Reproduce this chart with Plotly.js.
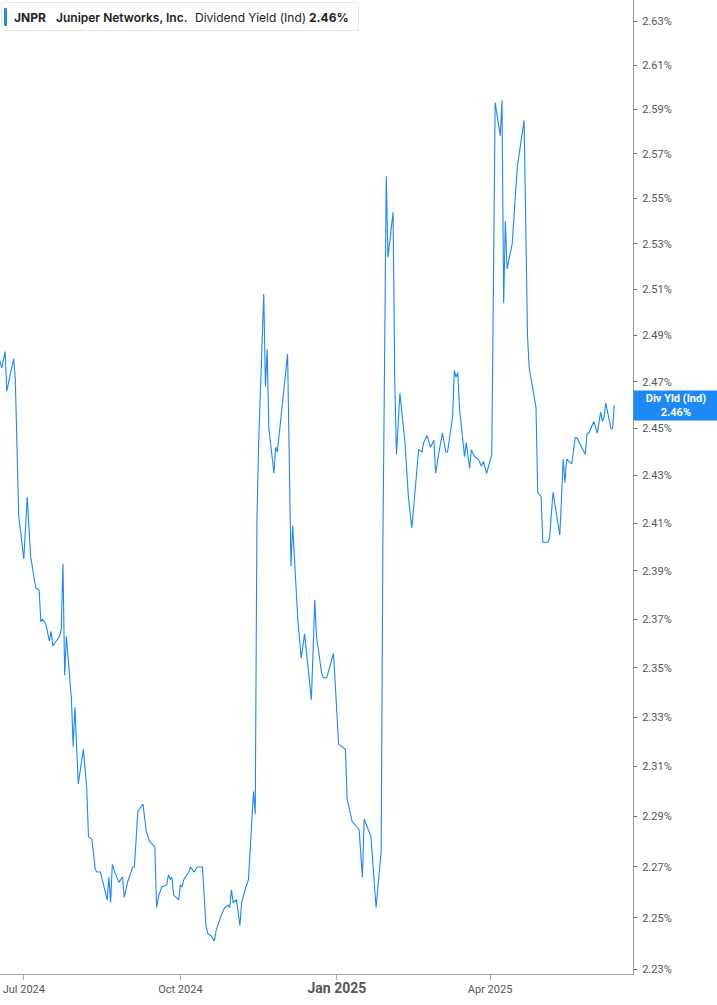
<!DOCTYPE html>
<html>
<head>
<meta charset="utf-8">
<script src="https://cdn.plot.ly/plotly-3.0.1.min.js"></script>
<style>
  body { margin: 0; background: #fff; }
  #chart { position: absolute; left: 0; top: 0; width: 717px; height: 1005px; }
  .hdr {
    position: absolute; left: 1px; top: 2px; width: 358px; height: 29px;
    background: #fff; border: 1px solid #e6e6e6; border-radius: 3px;
    font-family: Inter, Roboto, sans-serif; font-size: 12px; color: #222;
    line-height: 29px; white-space: nowrap; box-sizing: border-box;
  }
  .hdr .bar { position: absolute; left: 2px; top: 5px; width: 3px; height: 18px; background: #1e88f5; border-radius: 1px; }
  .hdr span { position: absolute; top: 0; }
</style>
</head>
<body>
<div id="chart"></div>
<div class="hdr">
  <div class="bar"></div>
  <span style="left:12px;font-weight:700">JNPR</span>
  <span style="left:54px;font-weight:600">Juniper Networks, Inc.</span>
  <span style="left:193px">Dividend Yield (Ind)</span>
  <span style="left:307px;font-weight:700">2.46%</span>
</div>
<script>
// daily dividend yield (%)
var dates = [
  '2024-06-17','2024-06-18','2024-06-20','2024-06-21','2024-06-25','2024-06-26','2024-06-28',
  '2024-07-01','2024-07-03','2024-07-05','2024-07-08','2024-07-10','2024-07-11','2024-07-12',
  '2024-07-14','2024-07-16','2024-07-17','2024-07-18','2024-07-22','2024-07-23','2024-07-24',
  '2024-07-25','2024-07-26','2024-07-28','2024-07-29','2024-07-30','2024-07-31',
  '2024-08-02','2024-08-05','2024-08-07','2024-08-08','2024-08-10','2024-08-12','2024-08-13',
  '2024-08-15','2024-08-19','2024-08-20','2024-08-21','2024-08-22','2024-08-24','2024-08-26',
  '2024-08-28','2024-08-29','2024-08-31',
  '2024-09-03','2024-09-04','2024-09-06','2024-09-09','2024-09-11','2024-09-12','2024-09-13',
  '2024-09-16','2024-09-17','2024-09-18','2024-09-20','2024-09-23','2024-09-24','2024-09-25',
  '2024-09-26','2024-09-27','2024-09-30',
  '2024-10-01','2024-10-02','2024-10-03','2024-10-06','2024-10-07','2024-10-09','2024-10-11',
  '2024-10-14','2024-10-16','2024-10-17','2024-10-19','2024-10-21','2024-10-22','2024-10-23',
  '2024-10-25','2024-10-27','2024-10-29','2024-10-30','2024-10-31',
  '2024-11-01','2024-11-03','2024-11-05','2024-11-06','2024-11-08','2024-11-10','2024-11-13',
  '2024-11-14','2024-11-15','2024-11-16','2024-11-19','2024-11-20','2024-11-21','2024-11-22',
  '2024-11-25','2024-11-26','2024-11-27',
  '2024-12-03','2024-12-05','2024-12-06','2024-12-09','2024-12-11','2024-12-13','2024-12-17',
  '2024-12-19','2024-12-20','2024-12-23','2024-12-24','2024-12-26','2024-12-30',
  '2025-01-02','2025-01-06','2025-01-07','2025-01-10','2025-01-14','2025-01-16','2025-01-17',
  '2025-01-21','2025-01-24','2025-01-27','2025-01-28','2025-01-30','2025-01-31',
  '2025-02-03','2025-02-04','2025-02-05','2025-02-07','2025-02-10','2025-02-12','2025-02-14',
  '2025-02-16','2025-02-18','2025-02-20','2025-02-21','2025-02-23','2025-02-25','2025-02-27',
  '2025-02-28',
  '2025-03-02','2025-03-04','2025-03-06','2025-03-07','2025-03-10','2025-03-11','2025-03-12',
  '2025-03-13','2025-03-14','2025-03-17','2025-03-18','2025-03-20','2025-03-21','2025-03-23',
  '2025-03-25','2025-03-27','2025-03-28','2025-03-30',
  '2025-04-02','2025-04-04','2025-04-07','2025-04-08','2025-04-09','2025-04-10','2025-04-11',
  '2025-04-14','2025-04-17','2025-04-21','2025-04-23','2025-04-24','2025-04-28','2025-04-29',
  '2025-05-01','2025-05-02','2025-05-05','2025-05-06','2025-05-08','2025-05-12','2025-05-14',
  '2025-05-15','2025-05-16','2025-05-19','2025-05-21','2025-05-22','2025-05-27','2025-05-28',
  '2025-05-29',
  '2025-06-01','2025-06-03','2025-06-05','2025-06-06','2025-06-07','2025-06-08','2025-06-11',
  '2025-06-12','2025-06-13'
];
var yields = [
  2.479,2.476,2.483,2.466,2.480,2.471,2.413,
  2.395,2.421,2.396,2.383,2.382,2.369,2.370,
  2.368,2.361,2.365,2.359,2.363,2.366,2.393,
  2.347,2.363,2.344,2.337,2.318,2.334,
  2.303,2.317,2.301,2.282,2.281,2.269,2.268,
  2.268,2.257,2.266,2.256,2.271,2.267,2.264,
  2.266,2.258,2.264,
  2.270,2.270,2.292,2.295,2.284,2.282,2.280,
  2.278,2.254,2.258,2.262,2.263,2.267,2.265,
  2.266,2.259,2.257,
  2.263,2.262,2.265,2.268,2.270,2.268,2.270,
  2.270,2.247,2.244,2.243,2.241,2.245,2.247,
  2.251,2.254,2.255,2.254,2.261,
  2.256,2.257,2.247,2.256,2.261,2.265,2.300,
  2.291,2.411,2.444,2.508,2.468,2.484,2.450,
  2.431,2.442,2.440,
  2.482,2.392,2.409,2.370,2.354,2.364,2.337,
  2.378,2.363,2.348,2.346,2.346,2.356,
  2.319,2.317,2.297,2.288,2.285,2.266,2.289,
  2.282,2.254,2.276,2.400,2.560,2.524,
  2.544,2.470,2.439,2.465,2.444,2.421,2.408,
  2.424,2.441,2.440,2.444,2.447,2.442,2.445,
  2.431,
  2.440,2.448,2.440,2.440,2.455,2.475,2.472,
  2.474,2.459,2.438,2.444,2.433,2.441,2.438,
  2.437,2.434,2.436,2.431,
  2.439,2.593,2.578,2.594,2.504,2.540,2.519,
  2.530,2.564,2.585,2.490,2.476,2.459,2.423,
  2.421,2.402,2.402,2.404,2.423,2.405,2.437,
  2.427,2.437,2.435,2.446,2.446,2.439,2.448,
  2.448,
  2.453,2.448,2.457,2.453,2.455,2.461,2.450,
  2.450,2.460
];

var yTicks = [2.23,2.25,2.27,2.29,2.31,2.33,2.35,2.37,2.39,2.41,2.43,2.45,2.47,2.49,2.51,2.53,2.55,2.57,2.59,2.61,2.63];
var xTicks = ['2024-07-01','2024-10-01','2025-01-01','2025-04-01'];
var xTickText = ['Jul 2024','Oct 2024','<b><span style="font-size:14px">Jan 2025</span></b>','Apr 2025'];

var lastVal = yields[yields.length - 1];

var trace = {
  x: dates,
  y: yields,
  type: 'scatter',
  mode: 'lines',
  line: {color: '#1a87ff', width: 1.1},
  hoverinfo: 'skip'
};

var layout = {
  width: 717,
  height: 1005,
  margin: {l: 0, r: 84, t: 0, b: 31},
  paper_bgcolor: '#fff',
  plot_bgcolor: '#fff',
  showlegend: false,
  font: {family: 'Roboto, sans-serif', size: 11, color: '#555'},
  xaxis: {
    type: 'date',
    range: ['2024-06-17', '2025-06-24'],
    tickvals: xTicks,
    ticktext: xTickText,
    showgrid: false,
    zeroline: false,
    showline: true,
    linecolor: '#aaa',
    linewidth: 1,
    ticks: 'outside',
    ticklen: 5,
    tickcolor: '#aaa',
    tickfont: {size: 11, color: '#555'},
    fixedrange: true
  },
  yaxis: {
    type: 'log',
    side: 'right',
    range: [Math.log10(2.2281), Math.log10(2.6397)],
    tickvals: yTicks,
    ticktext: yTicks.map(function (v) { return v.toFixed(2) + '%'; }),
    showgrid: false,
    zeroline: false,
    showline: true,
    linecolor: '#999',
    linewidth: 1,
    ticks: 'outside',
    ticklen: 3,
    tickcolor: '#666',
    ticklabelstandoff: 3,
    tickfont: {size: 11, color: '#555'},
    fixedrange: true
  },
  annotations: [{
    xref: 'paper', yref: 'y',
    x: 1, y: Math.log10(lastVal),
    xanchor: 'left', yanchor: 'middle',
    text: '<b>Div Yld (Ind)</b><br><b>' + lastVal.toFixed(2) + '%</b>',
    showarrow: false,
    align: 'center',
    font: {family: 'Roboto, sans-serif', size: 11, color: '#fff'},
    bgcolor: '#1e88f5',
    width: 80,
    height: 25,
    borderpad: 2
  }]
};

Plotly.newPlot('chart', [trace], layout, {displayModeBar: false, staticPlot: true});
</script>
</body>
</html>
